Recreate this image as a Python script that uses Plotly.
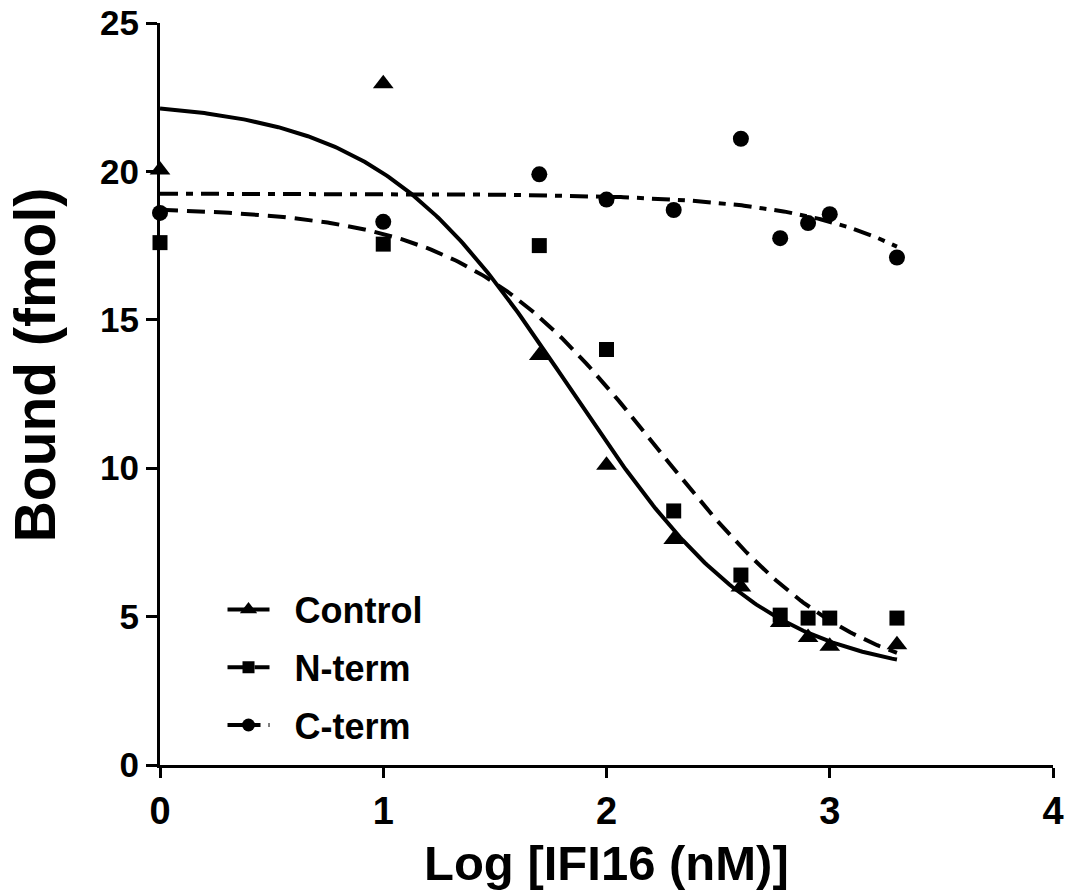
import numpy as np
import plotly.graph_objects as go

# log10 of IFI16 concentration (nM): 1, 10, 50, 100, 200, 400, 600, 800, 1000, 2000
log_conc = [0.0, 1.0, 1.699, 2.0, 2.301, 2.602, 2.778, 2.903, 3.0, 3.301]

# Bound DNA (fmol) for each construct
control = [20.05, 22.95, 13.8, 10.1, 7.6, 6.0, 4.8, 4.3, 4.0, 4.05]
n_term = [17.6, 17.55, 17.5, 14.0, 8.56, 6.4, 5.05, 4.95, 4.95, 4.95]
c_term = [18.6, 18.3, 19.9, 19.05, 18.7, 21.1, 17.75, 18.26, 18.56, 17.1]

# Four-parameter logistic fits: (top, bottom, logIC50, hill slope)
fit_control = (22.4, 2.9, 1.84, 1.0)
fit_n_term = (18.8, 2.5, 2.23, 1.0)
fit_c_term = (19.25, 3.0, 4.21, 1.0)

x_ticks = [0, 1, 2, 3, 4]
y_ticks = [0, 5, 10, 15, 20, 25]

FONT = "Liberation Sans, Arial, Helvetica, sans-serif"
NBSP = "\u00a0"


def logistic(x, top, bottom, log_ic50, hill):
    return bottom + (top - bottom) / (1.0 + 10.0 ** ((x - log_ic50) * hill))


x_fit = np.linspace(0.0, 3.301, 300)

series = [
    ("Control", control, fit_control, "triangle-up", 18, "solid"),
    ("N-term", n_term, fit_n_term, "square", 15, "18px,9px"),
    ("C-term", c_term, fit_c_term, "circle", 16, "18px,8px,7px,8px"),
]

fig = go.Figure()
for i, (name, values, params, symbol, msize, dash) in enumerate(series):
    # fitted curve
    fig.add_trace(go.Scatter(
        x=x_fit, y=logistic(x_fit, *params), mode="lines",
        line=dict(color="black", width=4, dash=dash),
        showlegend=False, hoverinfo="skip", cliponaxis=False,
    ))
    # measured points
    fig.add_trace(go.Scatter(
        x=log_conc, y=values, mode="markers",
        marker=dict(symbol=symbol, size=msize, color="black", line=dict(width=0)),
        showlegend=False, cliponaxis=False, name=name,
    ))
    # legend entry (line + marker sample)
    fig.add_trace(go.Scatter(
        x=[None], y=[None], mode="lines+markers", name=NBSP * 2 + name,
        line=dict(color="black", width=4, dash=dash),
        marker=dict(symbol=symbol, size=msize - 3, color="black"),
        legendgroup=f"g{i}", showlegend=True,
    ))

axis_common = dict(
    showgrid=False, zeroline=False, showline=True, linecolor="black",
    linewidth=3, ticks="outside", tickwidth=3, tickcolor="black",
    mirror=False, automargin=False,
)

fig.update_layout(
    width=1068, height=892,
    margin=dict(l=160, r=15, t=23, b=127),
    paper_bgcolor="white", plot_bgcolor="white",
    font=dict(family=FONT, color="black", weight="bold"),
    xaxis=dict(range=[0, 4], tickvals=x_ticks, ticktext=[str(v) for v in x_ticks],
               ticklen=10, tickfont=dict(size=38, family=FONT, weight="bold"),
               **axis_common),
    yaxis=dict(range=[0, 25], tickvals=y_ticks, ticktext=[str(v) for v in y_ticks],
               ticklen=11, tickfont=dict(size=35, family=FONT, weight="bold"),
               **axis_common),
    legend=dict(
        x=0.07, y=0.25, xanchor="left", yanchor="top",
        font=dict(size=36, family=FONT, weight="bold"),
        bgcolor="rgba(0,0,0,0)", borderwidth=0, tracegroupgap=8,
        itemwidth=42,
    ),
    annotations=[
        dict(text="Log [IFI16 (nM)]", xref="paper", yref="paper", x=0.5, y=-0.171,
             xanchor="center", yanchor="bottom", showarrow=False,
             font=dict(size=49, family=FONT, weight="bold")),
        dict(text="Bound (fmol)", xref="paper", yref="paper", x=-0.14, y=0.54,
             xanchor="center", yanchor="middle", textangle=-90, showarrow=False,
             font=dict(size=57, family=FONT, weight="bold")),
    ],
)

fig.write_html("out.html")
